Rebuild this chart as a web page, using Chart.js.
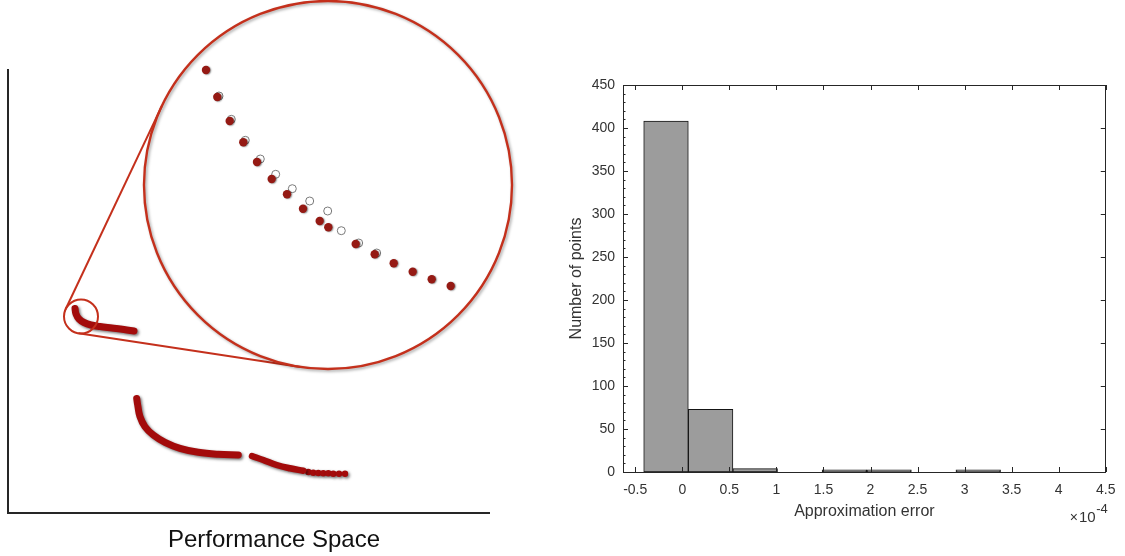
<!DOCTYPE html>
<html>
<head>
<meta charset="utf-8">
<script src="https://cdn.jsdelivr.net/npm/chart.js@4.4.1/dist/chart.umd.min.js"></script>
<style>
html,body{margin:0;padding:0;background:#fff;width:1125px;height:556px;overflow:hidden;}
#left{position:absolute;left:0;top:0;}
#right{position:absolute;left:560px;top:0;}
</style>
</head>
<body>
<canvas id="left" width="548" height="556"></canvas>
<canvas id="right" width="565" height="556"></canvas>
<script>
// ================= DATA =================
// Left panel: schematic "Performance Space" (arbitrary units)
const hookX   = [67, 68, 71, 76, 83, 92, 104, 116, 126];
const hookY   = [204.5, 199, 194, 190.5, 188, 186.5, 185, 183.5, 182];
const curveBX = [128.7, 129.7, 132, 137, 145.3, 157, 172, 190.3, 210.3, 230.3];
const curveBY = [114.5, 108, 96.3, 86.3, 78, 70.7, 64.7, 60.7, 58.7, 58];
const curveCX = [244, 255.3, 268.7, 282, 295.3];
const curveCY = [57, 53, 48, 44.7, 42.3];
const tailX   = [300.3, 305.3, 310.3, 315.3, 320.3, 325.3, 331, 337];
const tailY   = [41, 40.3, 40, 39.7, 39.7, 39.3, 39.3, 39.3];

// magnified view (points inside the lens)
const zoomSelX = [198, 209.3, 221.7, 235.3, 249, 263.7, 279, 295, 311.7, 320.3, 347.7, 366.7, 385.7, 404.7, 423.7, 442.7];
const zoomSelY = [443, 416, 392, 370.7, 351, 334, 318.7, 304.3, 292, 285.7, 269, 258.7, 249.7, 241.3, 233.7, 227];
const zoomApproxX = [211, 223.3, 237.3, 252.3, 267.7, 284.3, 301.7, 319.7, 333.3, 350.7, 368.7];
const zoomApproxY = [417, 393.7, 372.7, 354, 338.7, 324.3, 312, 302, 282.3, 270, 260];

// lens circles (small = region, big = magnified) and connector lines
const lensCenterX = [73, 320];
const lensCenterY = [196.5, 328];
const connUpperX = [57.6, 153.8];
const connUpperY = [203.8, 406.9];
const connLowerX = [70.5, 292.5];
const connLowerY = [179.7, 146];

// Right panel: histogram of approximation error (x 1e-4)
const binEdges  = [-0.41, 0.064, 0.538, 1.012, 1.486, 1.96, 2.434, 2.908, 3.382];
const binCounts = [408, 73, 4, 0, 1, 1, 0, 1];
const xTickValues = [-0.5, 0, 0.5, 1, 1.5, 2, 2.5, 3, 3.5, 4, 4.5];
const yTickValues = [0, 50, 100, 150, 200, 250, 300, 350, 400, 450];
const yMinorValues = [10,20,30,40,60,70,80,90,110,120,130,140,160,170,180,190,210,220,230,240,260,270,280,290,310,320,330,340,360,370,380,390,410,420,430,440];

// ================= HELPERS =================
const FONT = "'Liberation Sans', Arial, Helvetica, sans-serif";
function pts(xs, ys){ return xs.map((x,i)=>({x:x, y:ys[i]})); }

const shadowPlugin = {
  id:'shadowPlugin',
  beforeDatasetDraw(chart, args){
    const ds = chart.data.datasets[args.index];
    if (ds.shadow){
      const c = chart.ctx; c.save();
      c.shadowColor = ds.shadow.color; c.shadowBlur = ds.shadow.blur;
      c.shadowOffsetX = ds.shadow.dx; c.shadowOffsetY = ds.shadow.dy;
    }
  },
  afterDatasetDraw(chart, args){
    const ds = chart.data.datasets[args.index];
    if (ds.shadow) chart.ctx.restore();
  }
};

const CURVE = '#a30b0b';
const LENS = '#c4301c';
const curveShadow = {color:'rgba(0,0,0,0.55)', blur:3, dx:1.5, dy:1.5};

// ================= LEFT CHART =================
new Chart(document.getElementById('left'), {
  type:'scatter',
  plugins:[shadowPlugin],
  data:{datasets:[
    {data:pts(zoomSelX, zoomSelY), pointRadius:4.2, pointBackgroundColor:'#951a14', pointBorderWidth:0, clip:false, order:0,
     shadow:{color:'rgba(0,0,0,0.45)', blur:1.5, dx:1, dy:0.5}},
    {data:pts(zoomApproxX, zoomApproxY), pointRadius:4, pointBackgroundColor:'rgba(255,255,255,0)', pointBorderColor:'#7a7a7a', pointBorderWidth:1, clip:false, order:1},
    {data:[{x:lensCenterX[1], y:lensCenterY[1]}], pointRadius:184, pointBackgroundColor:'rgba(0,0,0,0)', pointBorderColor:LENS, pointBorderWidth:2.4, clip:false, order:2,
     shadow:{color:'rgba(0,0,0,0.35)', blur:3, dx:1.5, dy:1.5}},
    {data:pts(connUpperX, connUpperY), showLine:true, pointRadius:0, borderColor:LENS, borderWidth:2, clip:false, order:3},
    {data:pts(connLowerX, connLowerY), showLine:true, pointRadius:0, borderColor:LENS, borderWidth:2, clip:false, order:3},
    {data:[{x:lensCenterX[0], y:lensCenterY[0]}], pointRadius:17, pointBackgroundColor:'rgba(0,0,0,0)', pointBorderColor:LENS, pointBorderWidth:2, clip:false, order:2},
    {data:pts(hookX, hookY), showLine:true, tension:0.4, pointRadius:0, borderColor:CURVE, borderWidth:7, borderCapStyle:'round', borderJoinStyle:'round', clip:false, order:5, shadow:curveShadow},
    {data:pts(curveBX, curveBY), showLine:true, tension:0.4, pointRadius:0, borderColor:CURVE, borderWidth:7, borderCapStyle:'round', borderJoinStyle:'round', clip:false, order:5, shadow:curveShadow},
    {data:pts(curveCX, curveCY), showLine:true, tension:0.4, pointRadius:0, borderColor:CURVE, borderWidth:6.5, borderCapStyle:'round', borderJoinStyle:'round', clip:false, order:5, shadow:curveShadow},
    {data:pts(tailX, tailY), pointRadius:3.2, pointBackgroundColor:CURVE, pointBorderWidth:0, clip:false, order:5, shadow:curveShadow}
  ]},
  options:{
    responsive:false, animation:false, events:[],
    layout:{autoPadding:false, padding:{top:70, left:0, right:0, bottom:0}},
    plugins:{
      legend:{display:false}, tooltip:{enabled:false},
      title:{display:true, position:'bottom', text:'Performance Space', color:'#111',
             font:{family:FONT, size:24, weight:'normal', lineHeight:1.2}, padding:{top:10, bottom:1.6}}
    },
    scales:{
      x:{type:'linear', min:0, max:481, grid:{display:false, drawTicks:false}, ticks:{display:false},
         border:{display:true, color:'#262626', width:2}, afterFit(s){ s.height = 2.6; }},
      y:{type:'linear', min:0, max:443, grid:{display:false, drawTicks:false}, ticks:{display:false},
         border:{display:true, color:'#262626', width:2}, afterFit(s){ s.width = 8; }},
      y2:{type:'linear', position:'right', min:0, max:443, grid:{display:false, drawTicks:false}, ticks:{display:false},
         border:{display:false}, afterFit(s){ s.width = 59; }}
    }
  }
});

// ================= RIGHT CHART =================
const AXC = '#262626';
const boxTicks = {
  id:'boxTicks',
  afterDraw(chart){
    const c = chart.ctx, a = chart.chartArea, xs = chart.scales.x, ys = chart.scales.y;
    c.save();
    c.strokeStyle = AXC; c.lineWidth = 1;
    c.beginPath();
    xs.ticks.forEach(t=>{
      const p = Math.round(xs.getPixelForValue(t.value)) + 0.5;
      c.moveTo(p, a.bottom); c.lineTo(p, a.bottom - 5);
      c.moveTo(p, a.top); c.lineTo(p, a.top + 5);
    });
    ys.ticks.forEach(t=>{
      const p = Math.round(ys.getPixelForValue(t.value)) + 0.5;
      c.moveTo(a.left, p); c.lineTo(a.left + 5, p);
      c.moveTo(a.right, p); c.lineTo(a.right - 5, p);
    });
    yMinorValues.forEach(v=>{
      const p = Math.round(ys.getPixelForValue(v)) + 0.5;
      c.moveTo(a.left, p); c.lineTo(a.left + 2.5, p);
    });
    c.stroke();
    // exponent label
    c.fillStyle = '#333';
    c.textBaseline = 'alphabetic'; c.textAlign = 'left';
    const x0 = a.right - 36;
    c.font = '14px ' + FONT;
    c.fillText('\u00d7', x0, 522);
    let w = c.measureText('\u00d7').width;
    c.font = '15px ' + FONT;
    c.fillText('10', x0 + w + 1, 522);
    w += 1 + c.measureText('10').width;
    c.font = '13px ' + FONT;
    c.fillText('-4', x0 + w + 0.5, 513);
    c.restore();
  }
};

new Chart(document.getElementById('right'), {
  type:'bar',
  plugins:[boxTicks],
  data:{datasets:[{
    data: binCounts.map((cnt,i)=>({x:(binEdges[i]+binEdges[i+1])/2, y:(cnt === 0 ? null : cnt)})),
    backgroundColor:'#9c9c9c', borderColor:'#151515', borderWidth:1, borderSkipped:false,
    minBarLength:2.2, barPercentage:1, categoryPercentage:1
  }]},
  options:{
    responsive:false, animation:false, events:[],
    layout:{autoPadding:false, padding:0},
    plugins:{legend:{display:false}, tooltip:{enabled:false}},
    scales:{
      x:{type:'linear', position:'bottom', min:-0.63, max:4.5, offset:false,
         grid:{display:false, drawTicks:false},
         border:{display:true, color:AXC, width:1},
         afterBuildTicks(s){ s.ticks = xTickValues.map(v=>({value:v})); },
         ticks:{color:'#333', font:{family:FONT, size:14}, padding:9.5, autoSkip:false, maxRotation:0, callback:(v)=>String(v)},
         title:{display:true, text:'Approximation error', color:'#333', font:{family:FONT, size:16}, padding:{top:0, bottom:34.4}},
         afterFit(s){ s.height = 84; }},
      y:{type:'linear', position:'left', min:0, max:450,
         grid:{display:false, drawTicks:false},
         border:{display:true, color:AXC, width:1},
         afterBuildTicks(s){ s.ticks = yTickValues.map(v=>({value:v})); },
         ticks:{color:'#333', font:{family:FONT, size:14}, padding:8, autoSkip:false, callback:(v)=>String(v)},
         title:{display:true, text:'Number of points', color:'#333', font:{family:FONT, size:16}, padding:{top:7, bottom:0}},
         afterFit(s){ s.width = 63; }},
      x2:{type:'linear', position:'top', min:-0.63, max:4.5, grid:{display:false, drawTicks:false}, ticks:{display:false},
          border:{display:true, color:AXC, width:1}, afterFit(s){ s.height = 85; }},
      y2:{type:'linear', position:'right', min:0, max:450, grid:{display:false, drawTicks:false}, ticks:{display:false},
          border:{display:true, color:AXC, width:1}, afterFit(s){ s.width = 15; }}
    }
  }
});
</script>
</body>
</html>
